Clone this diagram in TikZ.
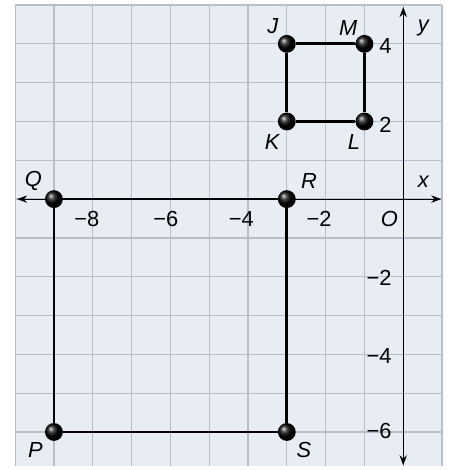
\documentclass[tikz,border=0pt]{standalone}
\usepackage{fontspec}
\setmainfont{Liberation Sans}
\usepackage{xcolor}
\usetikzlibrary{arrows.meta}

\definecolor{paper}{HTML}{E7EDF3}
\definecolor{gridgray}{HTML}{B7C0CA}

\begin{document}
\begin{tikzpicture}[
  x=1cm, y=1cm,
  gridline/.style={draw=gridgray, line width=0.9pt},
  axis/.style={{Stealth[length=2.6mm,width=1.9mm]}-{Stealth[length=2.6mm,width=1.9mm]}, line width=0.8pt},
  side/.style={line width=2pt},
  dot/.style={circle, inner sep=0pt, minimum size=4.6mm, shading=ball, ball color=black},
  lbl/.style={font=\fontsize{16}{19}\selectfont\itshape},
  num/.style={font=\fontsize{16}{19}\selectfont}
]
\useasboundingbox (-10.39,-6.98) rectangle (1.18,5.13);

% grid
\fill[paper] (-10,-6.88) rectangle (1,5);
\draw[gridline] (-10,-6.88) grid (1,5);

% axes
\coordinate (xl) at (-9.95,0);
\coordinate (xr) at (0.98,0);
\coordinate (yb) at (0,-6.86);
\coordinate (yt) at (0,4.95);
\draw[axis] (xl) -- (xr);
\draw[axis] (yb) -- (yt);
\node[lbl] (xlab) at (0.52,0.44) {x};
\node[lbl] (ylab) at (0.52,4.41) {y};
\node[lbl] (orig) at (-0.36,-0.51) {O};

% tick labels
\node[num] (xm8) at (-8.15,-0.51) {−8};
\node[num] (xm6) at (-6.12,-0.51) {−6};
\node[num] (xm4) at (-4.17,-0.51) {−4};
\node[num] (xm2) at (-2.17,-0.51) {−2};
\node[num, anchor=east] (y4) at (-0.18,3.95) {4};
\node[num, anchor=east] (y2) at (-0.18,1.9) {2};
\node[num, anchor=east] (ym2) at (-0.18,-2.03) {−2};
\node[num, anchor=east] (ym4) at (-0.18,-4.03) {−4};
\node[num, anchor=east] (ym6) at (-0.18,-5.98) {−6};

% small rectangle
\node[dot] (J) at (-3,4) {};
\node[dot] (M) at (-1,4) {};
\node[dot] (L) at (-1,2) {};
\node[dot] (K) at (-3,2) {};
\draw[side] (J) -- (M);
\draw[side] (M) -- (L);
\draw[side] (L) -- (K);
\draw[side] (K) -- (J);
\node[lbl] (Jlab) at (-3.36,4.47) {J};
\node[lbl] (Mlab) at (-1.42,4.42) {M};
\node[lbl] (Klab) at (-3.38,1.46) {K};
\node[lbl] (Llab) at (-1.27,1.46) {L};

% large rectangle
\node[dot] (Q) at (-9,0) {};
\node[dot] (R) at (-3,0) {};
\node[dot] (S) at (-3,-6) {};
\node[dot] (P) at (-9,-6) {};
\draw[side] (Q) -- (R);
\draw[side] (R) -- (S);
\draw[side] (S) -- (P);
\draw[side] (P) -- (Q);
\node[lbl] (Qlab) at (-9.53,0.46) {Q};
\node[lbl] (Rlab) at (-2.43,0.46) {R};
\node[lbl] (Plab) at (-9.48,-6.46) {P};
\node[lbl] (Slab) at (-2.56,-6.46) {S};
\end{tikzpicture}
\end{document}
